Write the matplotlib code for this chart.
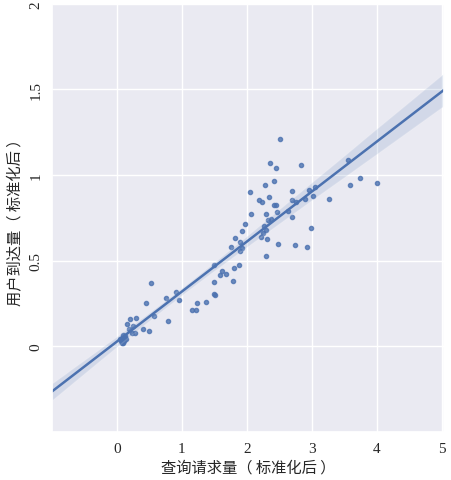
import matplotlib
matplotlib.use("Agg")
import matplotlib.pyplot as plt
import seaborn as sns
import pandas as pd

# Data (standardised query volume vs. user arrivals)
query_volume = [
    0.06, 0.08, 0.10, 0.12, 0.07, 0.09, 0.11, 0.13, 0.05, 0.10, 0.14, 0.08,
    0.15, 0.20, 0.29, 0.25, 0.23, 0.27, 0.18, 0.40, 0.44, 0.50, 0.53, 0.57,
    0.75, 0.78, 0.91, 0.96,
    1.16, 1.22, 1.23, 1.37, 1.49, 1.51, 1.50, 1.50, 1.58, 1.62, 1.67, 1.78,
    1.80, 1.88, 1.75, 1.82, 1.90, 1.92, 1.90, 1.92, 1.97, 2.06, 2.05,
    2.19, 2.23, 2.28, 2.34, 2.42, 2.36, 2.44, 2.51, 2.83,
    2.41, 2.45, 2.29, 2.47, 2.33, 2.37, 2.63, 2.70,
    2.27, 2.29, 2.24, 2.22, 2.31, 2.48, 2.74, 2.93, 2.98, 2.30,
    2.70, 2.95, 3.05, 3.02, 2.70, 2.75, 2.89, 3.27,
    3.55, 3.74, 3.59, 4.00,
]
user_arrivals = [
    0.03, 0.05, 0.04, 0.06, 0.02, 0.065, 0.03, 0.05, 0.045, 0.02, 0.04, 0.035,
    0.13, 0.16, 0.165, 0.12, 0.08, 0.08, 0.10, 0.10, 0.25, 0.087, 0.372, 0.176,
    0.28, 0.145, 0.318, 0.27,
    0.21, 0.213, 0.25, 0.26, 0.306, 0.30, 0.378, 0.473, 0.417, 0.44, 0.42, 0.38,
    0.46, 0.477, 0.58, 0.634, 0.61, 0.576, 0.556, 0.674, 0.713, 0.773, 0.90,
    0.857, 0.843, 0.94, 0.874, 0.965, 1.07, 1.04, 1.21, 1.06,
    0.824, 0.824, 0.773, 0.785, 0.74, 0.744, 0.79, 0.756,
    0.70, 0.68, 0.663, 0.64, 0.624, 0.60, 0.59, 0.58, 0.688, 0.525,
    0.905, 0.91, 0.93, 0.876, 0.855, 0.843, 0.863, 0.862,
    1.09, 0.985, 0.94, 0.953,
]
x_ticks = [0, 1, 2, 3, 4, 5]
y_ticks = [0, 0.5, 1, 1.5, 2]

df = pd.DataFrame({"query": query_volume, "arrivals": user_arrivals})

sns.set_theme(style="darkgrid")
plt.rcParams["font.family"] = ["Noto Sans CJK SC", "DejaVu Sans"]

fig = plt.figure(figsize=(4.52, 4.81), dpi=100)
ax = fig.add_axes([0.115, 0.1, 0.867, 0.89])

# limits first so the fit line spans the whole axis
ax.set_xlim(-1, 5.03)
ax.set_ylim(-0.5, 2)

sns.regplot(data=df, x="query", y="arrivals", ax=ax, truncate=False, seed=3,
            scatter_kws={"s": 9}, line_kws={"linewidth": 1.8})

ax.set_xlim(-1, 5.03)
ax.set_ylim(-0.5, 2)
ax.set_xticks(x_ticks)
ax.set_yticks(y_ticks)
ax.set_xticklabels([str(t) for t in x_ticks], family="Liberation Serif", fontsize=11)
ax.set_yticklabels(["0", "0.5", "1", "1.5", "2"], family="Liberation Serif",
                   fontsize=11, rotation=90, va="center")
ax.tick_params(axis="x", pad=1)
ax.tick_params(axis="y", pad=1)

ax.set_xlabel("查询请求量（ 标准化后 ）", fontsize=11, labelpad=3)
ax.set_ylabel("用户到达量（ 标准化后 ）", fontsize=11, labelpad=4)

fig.savefig("out.png", dpi=100)
